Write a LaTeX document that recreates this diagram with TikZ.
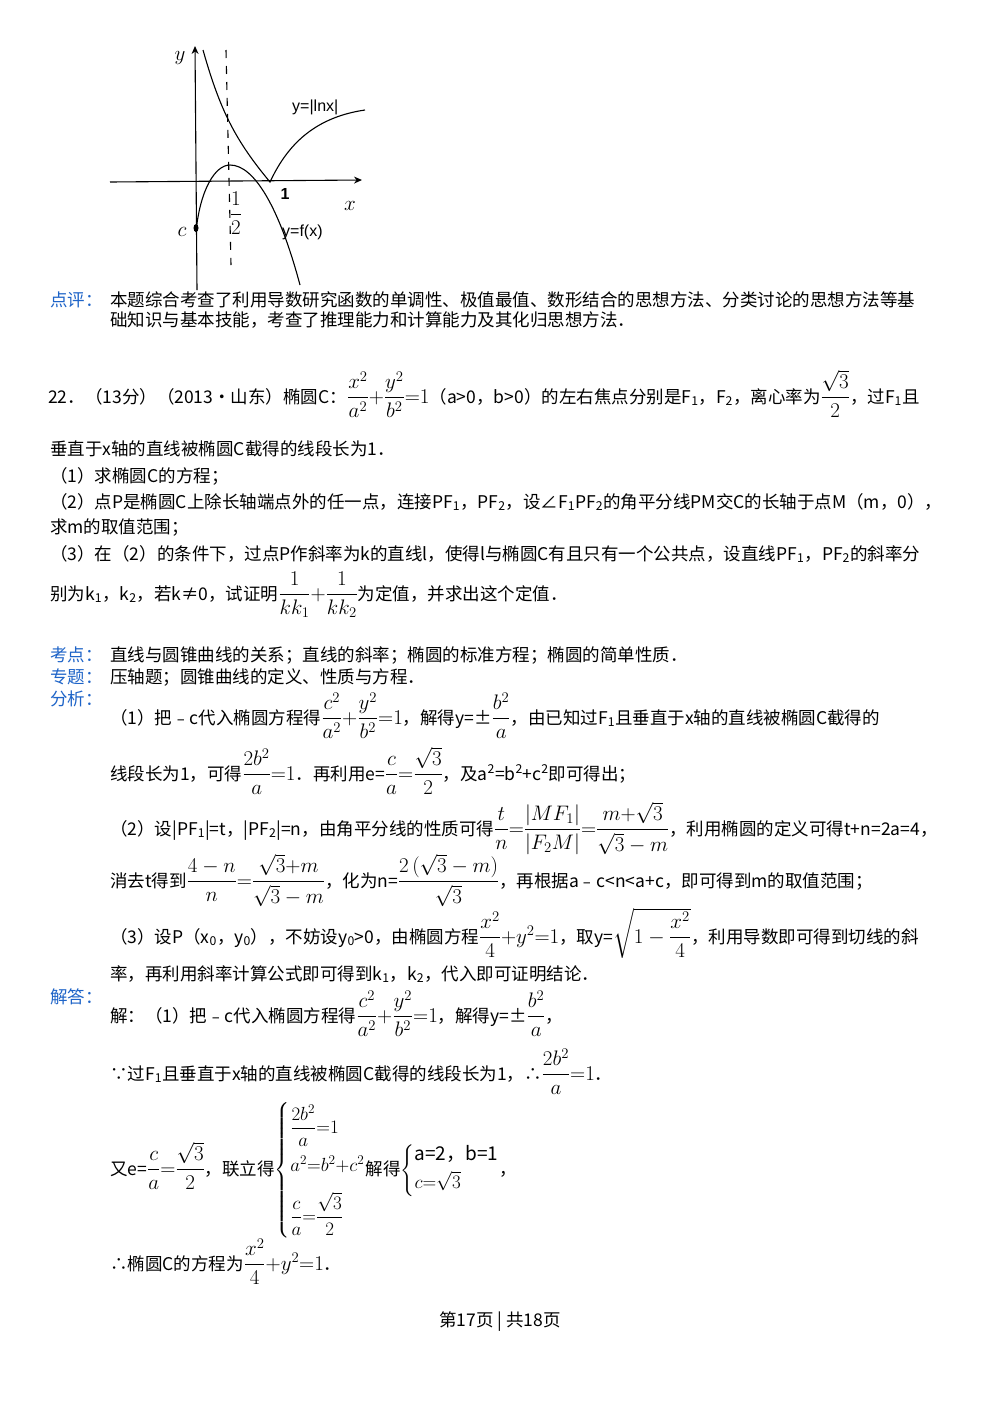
\RequirePackage{fix-cm}
\documentclass[tikz,border=0pt]{standalone}
\usepackage{amsmath}
\usepackage{fontspec}
\setmainfont{Noto Sans CJK SC}
\newfontfamily\lsans{Liberation Sans}
\usetikzlibrary{arrows.meta}
\definecolor{lblue}{RGB}{30,100,200}
\newcommand\mm[1]{{\fontsize{21}{24}\selectfont$#1$}}
\begin{document}
\begin{tikzpicture}[x=1pt,y=-1pt,
  tx/.style={anchor=base west,inner sep=0pt,font=\fontsize{17.5}{20}\selectfont},
  lb/.style={tx,text=lblue},
  gl/.style={inner sep=0pt,font=\lsans\fontsize{16}{18}\selectfont},
  crv/.style={line width=1.1pt}]
\useasboundingbox[fill=white] (0,0) rectangle (1000,1414);
% graph
\draw[crv,-{Stealth[length=8pt,width=7pt]}] (110,182) -- (362,180);
\draw[crv,-{Stealth[length=8pt,width=7pt]}] (197,290) -- (195,46);
\draw[crv,dashed,dash pattern=on 8pt off 8pt] (226,50) -- (231,265);
\draw[crv] (203,50) .. controls (220,110) and (235,140) .. (270,182) .. controls (285,150) and (310,118) .. (365,110);
\draw[crv] (196,232) .. controls (200,190) and (215,165) .. (230,165) .. controls (255,165) and (280,210) .. (300,285);
\fill (196,228) ellipse (2.5pt and 4pt);
\node[gl] (ylab) at (180,58) {\mm{y}};
\node[gl] (xlab) at (350,206) {\mm{x}};
\node[gl,font=\lsans\bfseries\fontsize{16}{18}\selectfont] (one) at (285,194) {1};
\node[gl] (half) at (236,213) {\mm{\dfrac{1}{2}}};
\node[gl] (clab) at (182,232) {\mm{c}};
\node[gl,anchor=west] (lnx) at (292,107) {y=|lnx|};
\node[gl,anchor=west] (fx) at (282,232) {y=f(x)};
% 点评
\node[lb] (dp) at (50,306) {点评：};
\node[tx] (dp1) at (110,306) {本题综合考查了利用导数研究函数的单调性、极值最值、数形结合的思想方法、分类讨论的思想方法等基};
\node[tx] (dp2) at (110,326) {础知识与基本技能，考查了推理能力和计算能力及其化归思想方法．};
% problem
\node[tx] (q1) at (48,403) {22．（13分）（2013•山东）椭圆C：\mm{\dfrac{x^2}{a^2}{+}\dfrac{y^2}{b^2}{=}1}（a>0，b>0）的左右焦点分别是F\textsubscript{1}，F\textsubscript{2}，离心率为\mm{\dfrac{\sqrt{3}}{2}}，过F\textsubscript{1}且};
\node[tx] (q2) at (50,455) {垂直于x轴的直线被椭圆C截得的线段长为1．};
\node[tx] (q3) at (50,482) {（1）求椭圆C的方程；};
\node[tx] (q4) at (50,508) {（2）点P是椭圆C上除长轴端点外的任一点，连接PF\textsubscript{1}，PF\textsubscript{2}，设∠F\textsubscript{1}PF\textsubscript{2}的角平分线PM交C的长轴于点M（m，0），};
\node[tx] (q5) at (50,533) {求m的取值范围；};
\node[tx] (q6) at (50,560) {（3）在（2）的条件下，过点P作斜率为k的直线l，使得l与椭圆C有且只有一个公共点，设直线PF\textsubscript{1}，PF\textsubscript{2}的斜率分};
\node[tx] (q7) at (50,600) {别为k\textsubscript{1}，k\textsubscript{2}，若k≠0，试证明\mm{\dfrac{1}{kk_1}{+}\dfrac{1}{kk_2}}为定值，并求出这个定值．};
% 考点 etc
\node[lb] (kd) at (50,661) {考点：};
\node[tx] (kd1) at (110,661) {直线与圆锥曲线的关系；直线的斜率；椭圆的标准方程；椭圆的简单性质．};
\node[lb] (zt) at (50,683) {专题：};
\node[tx] (zt1) at (110,683) {压轴题；圆锥曲线的定义、性质与方程．};
\node[lb] (fx0) at (50,705) {分析：};
\node[tx] (a1) at (110,724) {（1）把﹣c代入椭圆方程得\mm{\dfrac{c^2}{a^2}{+}\dfrac{y^2}{b^2}{=}1}，解得y=±\mm{\dfrac{b^2}{a}}，由已知过F\textsubscript{1}且垂直于x轴的直线被椭圆C截得的};
\node[tx] (a2) at (110,780) {线段长为1，可得\mm{\dfrac{2b^2}{a}{=}1}．再利用e=\mm{\dfrac{c}{a}{=}\dfrac{\sqrt{3}}{2}}，及a\textsuperscript{2}=b\textsuperscript{2}+c\textsuperscript{2}即可得出；};
\node[tx] (a3) at (110,835) {（2）设|PF\textsubscript{1}|=t，|PF\textsubscript{2}|=n，由角平分线的性质可得\mm{\dfrac{t}{n}{=}\dfrac{|MF_1|}{|F_2M|}{=}\dfrac{m{+}\sqrt{3}}{\sqrt{3}-m}}，利用椭圆的定义可得t+n=2a=4，};
\node[tx] (a4) at (110,887) {消去t得到\mm{\dfrac{4-n}{n}{=}\dfrac{\sqrt{3}{+}m}{\sqrt{3}-m}}，化为n=\mm{\dfrac{2\,(\sqrt{3}-m)}{\sqrt{3}}}，再根据a﹣c<n<a+c，即可得到m的取值范围；};
\node[tx] (a5) at (110,943) {（3）设P（x\textsubscript{0}，y\textsubscript{0}），不妨设y\textsubscript{0}>0，由椭圆方程\mm{\dfrac{x^2}{4}{+}y^2{=}1}，取y=\mm{\sqrt{1-\dfrac{x^2}{4}}}，利用导数即可得到切线的斜};
\node[tx] (a6) at (110,980) {率，再利用斜率计算公式即可得到k\textsubscript{1}，k\textsubscript{2}，代入即可证明结论．};
% 解答
\node[lb] (jd) at (50,1003) {解答：};
\node[tx] (s1) at (110,1022) {解：（1）把﹣c代入椭圆方程得\mm{\dfrac{c^2}{a^2}{+}\dfrac{y^2}{b^2}{=}1}，解得y=±\mm{\dfrac{b^2}{a}}，};
\node[tx] (s2) at (110,1080) {∵过F\textsubscript{1}且垂直于x轴的直线被椭圆C截得的线段长为1，∴\mm{\dfrac{2b^2}{a}{=}1}．};
\node[tx] (s3) at (110,1175) {又e=\mm{\dfrac{c}{a}{=}\dfrac{\sqrt{3}}{2}}，联立得{\fontsize{19}{22}\selectfont$\left\{\begin{array}{@{}l@{}}\dfrac{2b^2}{a}{=}1\\[16pt] a^2{=}b^2{+}c^2\\[14pt] \dfrac{c}{a}{=}\dfrac{\sqrt{3}}{2}\end{array}\right.$}解得{\fontsize{19}{22}\selectfont$\left\{\begin{array}{@{}l@{}}\text{a=2，b=1}\\[4pt] c{=}\sqrt{3}\end{array}\right.$}，};
\node[tx] (s4) at (110,1270) {∴椭圆C的方程为\mm{\dfrac{x^2}{4}{+}y^2{=}1}．};
\node[tx,anchor=base] (pg) at (500,1326) {第17页 | 共18页};
\end{tikzpicture}
\end{document}
